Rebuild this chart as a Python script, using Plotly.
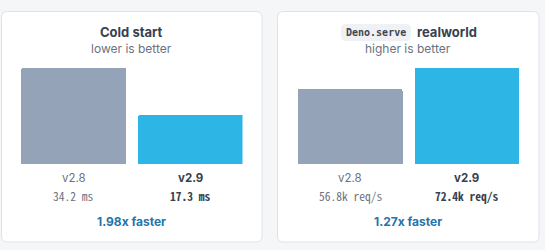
import plotly.graph_objects as go

W, H = 545, 250

# ---- data ----
versions = ["v2.8", "v2.9"]
cold_start_ms = [34.2, 17.3]
realworld_kreqs = [56.8, 72.4]
cold_labels = ["34.2 ms", "17.3 ms"]
real_labels = ["56.8k req/s", "72.4k req/s"]
speedups = ["1.98x faster", "1.27x faster"]
titles = ["Cold start", "realworld"]
subtitles = ["lower is better", "higher is better"]

GRAY = "#94a3b8"
BLUE = "#2cb5e5"
DARK = "#374151"
MUTED = "#6b7280"
LINK = "#2574a9"

def px(x):
    return x / W

def py(y):
    return 1 - y / H

fig = go.Figure()

panels = [
    dict(vals=cold_start_ms, xa="x", ya="y"),
    dict(vals=realworld_kreqs, xa="x2", ya="y2"),
]
bar_w_px = 105
gap_px = 11.5
unit = bar_w_px + gap_px
for p in panels:
    fig.add_trace(go.Bar(
        x=[0, 1], y=p["vals"], width=bar_w_px / unit,
        marker=dict(color=[GRAY, BLUE], line=dict(width=0), cornerradius=2),
        xaxis=p["xa"], yaxis=p["ya"], hoverinfo="skip", showlegend=False,
    ))

half = (bar_w_px / 2) / unit
axis_common = dict(visible=False, fixedrange=True)
fig.update_layout(
    xaxis=dict(domain=[px(21), px(21 + bar_w_px + gap_px + bar_w_px)], range=[-half, 1 + half], anchor="y", **axis_common),
    yaxis=dict(domain=[py(164), py(68)], range=[0, max(cold_start_ms)], anchor="x", **axis_common),
    xaxis2=dict(domain=[px(297.5), px(297.5 + bar_w_px + gap_px + bar_w_px)], range=[-half, 1 + half], anchor="y2", **axis_common),
    yaxis2=dict(domain=[py(164), py(68)], range=[0, max(realworld_kreqs)], anchor="x2", **axis_common),
)

def rrect(x0, y0, x1, y1, r):
    rx, ry = r / W, r / H
    X0, X1 = px(x0), px(x1)
    Y0, Y1 = py(y0), py(y1)
    return (f"M {X0+rx},{Y0} L {X1-rx},{Y0} Q {X1},{Y0} {X1},{Y0-ry} "
            f"L {X1},{Y1+ry} Q {X1},{Y1} {X1-rx},{Y1} L {X0+rx},{Y1} "
            f"Q {X0},{Y1} {X0},{Y1+ry} L {X0},{Y0-ry} Q {X0},{Y0} {X0+rx},{Y0} Z")

shapes = []
cards = [(1.5, 11.5, 262, 242), (277.5, 11.5, 539, 242)]
for c in cards:
    shapes.append(dict(type="path", path=rrect(*c, 6), xref="paper", yref="paper",
                       fillcolor="#ffffff", line=dict(color="#dfe3e8", width=1), layer="below"))
shapes.append(dict(type="path", path=rrect(341, 24, 411, 41, 5), xref="paper", yref="paper",
                   fillcolor="#eff1f4", line=dict(width=0), layer="below"))

FONT = "Inter, Noto Sans, sans-serif"
MONO = "Noto Sans Mono CJK JP, Noto Sans CJK JP, DejaVu Sans Mono, monospace"
ann = []

def txt(x, y, s, size, color, family=FONT, anchor="center"):
    ann.append(dict(x=px(x), y=py(y), xref="paper", yref="paper", text=s, showarrow=False,
                    xanchor=anchor, yanchor="middle", font=dict(size=size, color=color, family=family)))

centers = [131.75, 408.25]
bar_centers = [[73.5, 190], [350, 466]]
vlabels = [cold_labels, real_labels]

txt(centers[0], 32, f"<b>{titles[0]}</b>", 13, DARK)
txt(376, 32.5, "<b>Deno.serve</b>", 10, "#3f4650", family="DejaVu Sans Mono, monospace")
txt(415, 31.5, f"<b>{titles[1]}</b>", 13, DARK, anchor="left")
for i in range(2):
    txt(centers[i], 49, subtitles[i], 12, MUTED)
    for j in range(2):
        name = versions[j] if j == 0 else f"<b>{versions[j]}</b>"
        txt(bar_centers[i][j], 178, name, 11.5, MUTED if j == 0 else DARK)
        txt(bar_centers[i][j], 196, vlabels[i][j] if j == 0 else f"<b>{vlabels[i][j]}</b>",
            11.5, MUTED if j == 0 else DARK, family=MONO)
    txt(centers[i], 221, f"<b>{speedups[i]}</b>", 12, LINK)

fig.update_layout(
    width=W, height=H, margin=dict(l=0, r=0, t=0, b=0),
    paper_bgcolor="#f5f6f8", plot_bgcolor="rgba(0,0,0,0)",
    shapes=shapes, annotations=ann, bargap=0,
)

fig.write_html("out.html", config={"displayModeBar": False})
